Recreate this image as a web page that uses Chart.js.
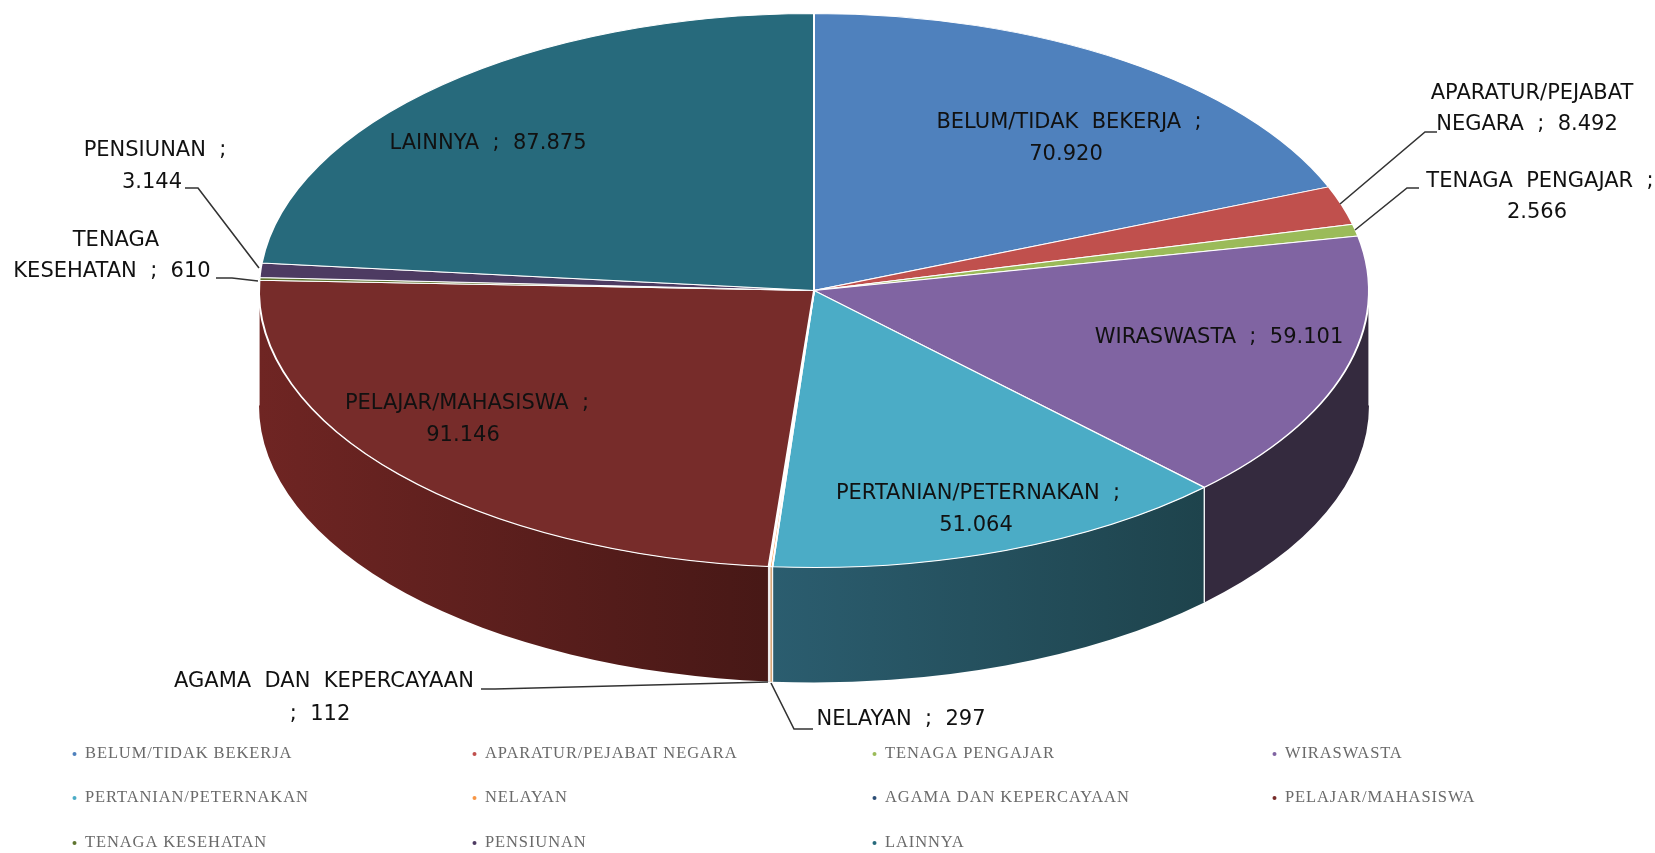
<!DOCTYPE html>
<html><head><meta charset="utf-8">
<style>html,body{margin:0;padding:0;background:#fff}canvas{display:block;filter:blur(.45px)}</style>
<script src="https://cdn.jsdelivr.net/npm/chart.js@4"></script>
</head><body><canvas id="c" width="1655" height="853"></canvas>
<script>
const categories = ["BELUM/TIDAK BEKERJA","APARATUR/PEJABAT NEGARA","TENAGA PENGAJAR","WIRASWASTA","PERTANIAN/PETERNAKAN","NELAYAN","AGAMA DAN KEPERCAYAAN","PELAJAR/MAHASISWA","TENAGA KESEHATAN","PENSIUNAN","LAINNYA"];
const values = [70920,8492,2566,59101,51064,297,112,91146,610,3144,87875];
const colors = ["#4F81BD","#C0504D","#9BBB59","#8064A2","#4BACC6","#F79646","#2C4D75","#772C2A","#5F7530","#4D3B62","#276A7C"];
const sideLeft = ["#2f4d71","#733030","#5d7035","#342a3e","#2b5d6f","#c98a50","#1a2e46","#6f2523","#39461d","#2e233b","#173f4a"];
const sideRight = ["#2f4d71","#733030","#5d7035","#342a3e","#1e434c","#c98a50","#1a2e46","#471816","#39461d","#2e233b","#173f4a"];
const dataLabels = [
 [["BELUM/TIDAK  BEKERJA  ;",1069,123],["70.920",1066,155]],
 [["APARATUR/PEJABAT",1532,94],["NEGARA  ;  8.492",1527,125]],
 [["TENAGA  PENGAJAR  ;",1540,182],["2.566",1537,213]],
 [["WIRASWASTA  ;  59.101",1219,338]],
 [["PERTANIAN/PETERNAKAN  ;",978,494],["51.064",976,526]],
 [["NELAYAN  ;  297",901,720]],
 [["AGAMA  DAN  KEPERCAYAAN",324,682],[";  112",320,715]],
 [["PELAJAR/MAHASISWA  ;",467,404],["91.146",463,436]],
 [["TENAGA",116,241],["KESEHATAN  ;  610",112,272]],
 [["PENSIUNAN  ;",155,151],["3.144",152,183]],
 [["LAINNYA  ;  87.875",488,144]]
];
const leaders = [null,
 [[1340,204],[1425,132],[1437,132]],
 [[1355,230],[1407,188],[1419,188]],
 null,null,
 [[771,683],[794,729],[813,729]],
 [[768,682],[495,689],[481,689]],
 null,
 [[258,281],[232,278],[216,278]],
 [[259,268],[198,188],[185,188]],
 null];
const legendCols = [85,485,885,1285];
const legendRows = [754,798,843];

const RX = 555, RY = 277, DEPTH = 115;

const pie3d = {
 id:'pie3d',
 beforeDatasetsDraw(chart){
  const ctx = chart.ctx, arcs = chart.getDatasetMeta(0).data;
  const cx = arcs[0].x, cy = arcs[0].y;
  ctx.save();
  arcs.forEach((a,i)=>{
    const a0 = Math.max(a.startAngle,0), a1 = Math.min(a.endAngle,Math.PI);
    if(a1<=a0) return;
    const x0 = cx+RX*Math.cos(a0), x1 = cx+RX*Math.cos(a1);
    const g = ctx.createLinearGradient(Math.min(x0,x1),0,Math.max(x0,x1),0);
    g.addColorStop(0,sideLeft[i]); g.addColorStop(1,sideRight[i]);
    ctx.beginPath();
    ctx.ellipse(cx,cy,RX,RY,0,a0,a1);
    ctx.ellipse(cx,cy+DEPTH,RX,RY,0,a1,a0,true);
    ctx.closePath();
    ctx.fillStyle = g; ctx.fill();
    ctx.strokeStyle = 'rgba(255,255,255,.85)'; ctx.lineWidth = 1.4;
    ctx.beginPath();
    ctx.moveTo(x0,cy+RY*Math.sin(a0)); ctx.lineTo(x0,cy+RY*Math.sin(a0)+DEPTH);
    ctx.moveTo(x1,cy+RY*Math.sin(a1)); ctx.lineTo(x1,cy+RY*Math.sin(a1)+DEPTH);
    ctx.stroke();
  });
  ctx.restore();
  ctx.save();
  ctx.translate(cx,cy); ctx.scale(1,RY/RX); ctx.translate(-cx,-cy);
 },
 afterDatasetsDraw(chart){
  const ctx = chart.ctx;
  ctx.restore();
  ctx.save();
  ctx.strokeStyle = '#333'; ctx.lineWidth = 1.6;
  leaders.forEach(l=>{ if(!l) return; ctx.beginPath(); l.forEach((p,k)=>k?ctx.lineTo(p[0],p[1]):ctx.moveTo(p[0],p[1])); ctx.stroke(); });
  ctx.font = "21px 'DejaVu Sans'"; ctx.fillStyle = '#111'; ctx.textAlign='center'; ctx.textBaseline='middle';
  dataLabels.forEach(ls=>ls.forEach(t=>ctx.fillText(t[0],t[1],t[2])));
  ctx.font = "16.5px 'Liberation Serif'"; ctx.letterSpacing='0.9px'; ctx.textAlign='left';
  categories.forEach((c,i)=>{
    const x = legendCols[i%4], y = legendRows[Math.floor(i/4)];
    ctx.fillStyle = colors[i];
    ctx.beginPath(); ctx.arc(x-10.5,y,2,0,Math.PI*2); ctx.fill();
    ctx.fillStyle = '#6a6a6a';
    ctx.fillText(c,x,y);
  });
  ctx.restore();
 }
};

new Chart(document.getElementById('c'),{
 type:'pie',
 data:{labels:categories,datasets:[{data:values,backgroundColor:colors,borderColor:'#fff',borderWidth:2,radius:RX,clip:false}]},
 options:{responsive:false,animation:false,
  layout:{padding:{left:0,right:27,top:0,bottom:272}},
  plugins:{legend:{display:false},tooltip:{enabled:false},title:{display:false}}},
 plugins:[pie3d]
});
</script></body></html>
